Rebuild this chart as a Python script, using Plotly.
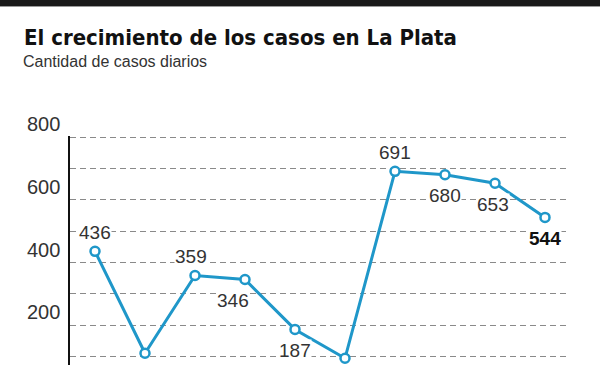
import plotly.graph_objects as go

days = list(range(10))
cases = [436, 111, 359, 346, 187, 95, 691, 680, 653, 544]
label_pos = ["top", None, "top", "bottom", "bottom", None, "top", "bottom", "bottom", "bottom"]
tick_vals = [200, 400, 600, 800]
tick_text = ["200", "400", "600", "800"]

# horizontal nudges of a few value labels (pixels)
label_dx = {2: -4, 3: -12, 8: -2}

BLUE = "#1f97c9"
PLOT_TOP = 136
PLOT_H = 365 - PLOT_TOP


def py(px):
    """pixel row -> paper y"""
    return 1 + (PLOT_TOP - px) / PLOT_H


def pxx(px):
    """pixel column -> paper x"""
    return (px - 70) / 500


fig = go.Figure()
fig.add_trace(go.Scatter(
    x=days, y=cases, mode="lines+markers",
    line=dict(color=BLUE, width=3),
    marker=dict(size=9, color="white", line=dict(color=BLUE, width=2.5)),
    cliponaxis=False, hoverinfo="skip",
))

for i, (x, v, p) in enumerate(zip(days, cases, label_pos)):
    if p is None:
        continue
    last = i == len(cases) - 1
    fig.add_annotation(
        x=x, y=v, xref="x", yref="y",
        text=f"<b>{v}</b>" if last else str(v),
        showarrow=False, bgcolor="white", borderpad=0,
        yshift=19 if p == "top" else -21, xshift=label_dx.get(i, 0),
        font=dict(family="Liberation Sans", size=19,
                  color="#111" if last else "#333"),
    )

for tv, tt in zip(tick_vals, tick_text):
    fig.add_annotation(
        x=0, xref="paper", xanchor="right", xshift=-8,
        y=tv, yref="y", yshift=13,
        text=tt, showarrow=False,
        font=dict(family="Liberation Sans", size=20, color="#333"),
    )

# top bar
fig.add_shape(type="rect", xref="paper", yref="paper", x0=pxx(0), x1=pxx(600),
              y0=py(6), y1=py(0), fillcolor="#1a1a1a",
              line=dict(width=0), layer="above")
fig.add_shape(type="line", xref="paper", yref="paper", x0=pxx(0), x1=pxx(600),
              y0=py(6.5), y1=py(6.5), line=dict(color="#9a9a9a", width=1),
              layer="above")

fig.add_annotation(
    x=pxx(22), y=py(37), xref="paper", yref="paper",
    showarrow=False, xanchor="left", yanchor="middle",
    text="<b>El crecimiento de los casos en La Plata</b>",
    font=dict(family="DejaVu Sans Condensed, Liberation Sans", size=22, color="#111"),
)
fig.add_annotation(
    x=pxx(21), y=py(62), xref="paper", yref="paper",
    showarrow=False, xanchor="left", yanchor="middle",
    text="Cantidad de casos diarios",
    font=dict(family="Liberation Sans", size=16, color="#333"),
)

fig.update_layout(
    width=600, height=365,
    margin=dict(l=70, r=30, t=PLOT_TOP, b=0),
    paper_bgcolor="white", plot_bgcolor="white",
    showlegend=False,
    xaxis=dict(range=[-0.5, 9.5], showgrid=False, zeroline=False,
               showticklabels=False, showline=False, fixedrange=True),
    yaxis=dict(range=[73.6, 73.6 + PLOT_H / 0.3137], dtick=100, tick0=0, showgrid=True,
               gridcolor="#8a8a8a", gridwidth=1, griddash="6px,4px",
               zeroline=False, showticklabels=False, fixedrange=True,
               showline=True, linecolor="#111", linewidth=2),
)

fig.write_html("out.html", config={"displayModeBar": False},
               post_script="document.body.style.margin='0';document.body.style.padding='0';")
